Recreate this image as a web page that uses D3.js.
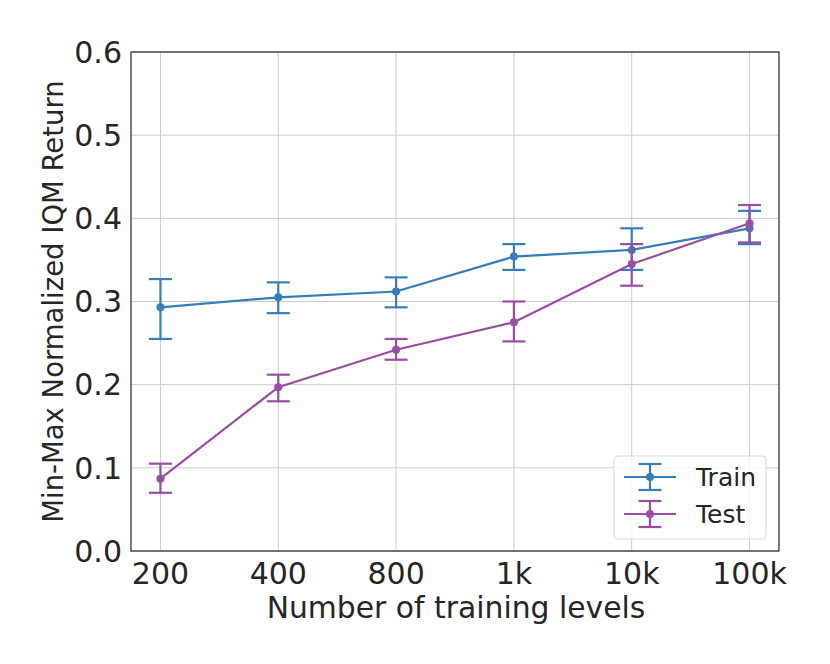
<!doctype html>
<html>
<head>
    <script src="https://d3js.org/d3.v7.min.js"></script>
</head>
<style>
    body { margin: 0; background: #fff; }
    svg text { font-family: "DejaVu Sans", sans-serif; fill: #262626; }
</style>
<body>
    <div id="chart"></div>
    <script>
        // chart values
        var levels = ["200", "400", "800", "1k", "10k", "100k"];
        var trainMean = [0.293, 0.305, 0.312, 0.354, 0.362, 0.388];
        var trainLow  = [0.255, 0.286, 0.293, 0.338, 0.338, 0.369];
        var trainHigh = [0.327, 0.323, 0.329, 0.369, 0.388, 0.409];
        var testMean  = [0.087, 0.197, 0.242, 0.275, 0.345, 0.394];
        var testLow   = [0.070, 0.180, 0.230, 0.252, 0.319, 0.371];
        var testHigh  = [0.105, 0.212, 0.255, 0.300, 0.369, 0.416];
        var yTicks = [0.0, 0.1, 0.2, 0.3, 0.4, 0.5, 0.6];

        var width = 830, height = 664;
        var margin = {left: 131, right: 51, top: 52, bottom: 113};

        var svg = d3.select("#chart").append("svg")
                    .attr("width", width)
                    .attr("height", height);

        var x = d3.scalePoint()
                  .domain(levels)
                  .range([margin.left, width - margin.right])
                  .padding(0.25);

        var y = d3.scaleLinear()
                  .domain([0, 0.6])
                  .range([height - margin.bottom, margin.top]);

        // grid
        svg.append("g").selectAll("line").data(yTicks).enter().append("line")
           .attr("x1", margin.left).attr("x2", width - margin.right)
           .attr("y1", function(d) { return y(d); })
           .attr("y2", function(d) { return y(d); })
           .attr("stroke", "#cccccc").attr("stroke-width", 1);
        svg.append("g").selectAll("line").data(levels).enter().append("line")
           .attr("x1", function(d) { return x(d); })
           .attr("x2", function(d) { return x(d); })
           .attr("y1", margin.top).attr("y2", height - margin.bottom)
           .attr("stroke", "#cccccc").attr("stroke-width", 1);

        // frame
        svg.append("rect")
           .attr("x", margin.left).attr("y", margin.top)
           .attr("width", width - margin.left - margin.right)
           .attr("height", height - margin.top - margin.bottom)
           .attr("fill", "none").attr("stroke", "#262626").attr("stroke-width", 1.2);

        // tick labels
        svg.append("g").selectAll("text").data(yTicks).enter().append("text")
           .attr("x", margin.left - 9)
           .attr("y", function(d) { return y(d); })
           .attr("dy", "0.36em")
           .attr("text-anchor", "end")
           .attr("font-size", "30px")
           .text(function(d) { return d.toFixed(1); });

        svg.append("g").selectAll("text").data(levels).enter().append("text")
           .attr("x", function(d) { return x(d); })
           .attr("y", 584)
           .attr("text-anchor", "middle")
           .attr("font-size", "30px")
           .text(function(d) { return d; });

        // axis labels
        svg.append("text")
           .attr("x", 456)
           .attr("y", 618)
           .attr("text-anchor", "middle")
           .attr("font-size", "29.8px")
           .text("Number of training levels");

        svg.append("text")
           .attr("transform", "translate(63," + ((margin.top + height - margin.bottom) / 2) + ") rotate(-90)")
           .attr("text-anchor", "middle")
           .attr("font-size", "27.5px")
           .text("Min-Max Normalized IQM Return");

        var series = [
            {name: "Train", color: "#377eb8", mean: trainMean, low: trainLow, high: trainHigh},
            {name: "Test",  color: "#984ea3", mean: testMean,  low: testLow,  high: testHigh}
        ];

        var line = d3.line()
                     .x(function(d, i) { return x(levels[i]); })
                     .y(function(d) { return y(d); });

        var cap = 11.5;

        series.forEach(function(s) {
            var g = svg.append("g");
            g.append("path")
             .attr("d", line(s.mean))
             .attr("fill", "none")
             .attr("stroke", s.color)
             .attr("stroke-width", 2.2);

            levels.forEach(function(l, i) {
                var cx = x(l);
                g.append("line")
                 .attr("x1", cx).attr("x2", cx)
                 .attr("y1", y(s.low[i])).attr("y2", y(s.high[i]))
                 .attr("stroke", s.color).attr("stroke-width", 2.2);
                [s.low[i], s.high[i]].forEach(function(v) {
                    g.append("line")
                     .attr("x1", cx - cap).attr("x2", cx + cap)
                     .attr("y1", y(v)).attr("y2", y(v))
                     .attr("stroke", s.color).attr("stroke-width", 2.2);
                });
                g.append("circle")
                 .attr("cx", cx).attr("cy", y(s.mean[i]))
                 .attr("r", 4)
                 .attr("fill", s.color);
            });
        });

        // legend
        var legend = svg.append("g");
        legend.append("rect")
              .attr("x", 614).attr("y", 456)
              .attr("width", 152).attr("height", 83)
              .attr("rx", 4)
              .attr("fill", "#fff").attr("fill-opacity", 0.8)
              .attr("stroke", "#d9d9d9").attr("stroke-width", 1);

        series.forEach(function(s, i) {
            var ly = 477 + i * 37;
            var lx = 650;
            legend.append("line")
                  .attr("x1", lx - 26).attr("x2", lx + 26)
                  .attr("y1", ly).attr("y2", ly)
                  .attr("stroke", s.color).attr("stroke-width", 2.2);
            legend.append("line")
                  .attr("x1", lx).attr("x2", lx)
                  .attr("y1", ly - 13).attr("y2", ly + 13)
                  .attr("stroke", s.color).attr("stroke-width", 2.2);
            [-13, 13].forEach(function(o) {
                legend.append("line")
                      .attr("x1", lx - cap).attr("x2", lx + cap)
                      .attr("y1", ly + o).attr("y2", ly + o)
                      .attr("stroke", s.color).attr("stroke-width", 2.2);
            });
            legend.append("circle")
                  .attr("cx", lx).attr("cy", ly).attr("r", 4)
                  .attr("fill", s.color);
            legend.append("text")
                  .attr("x", 696).attr("y", ly)
                  .attr("dy", "0.36em")
                  .attr("font-size", "25px")
                  .text(s.name);
        });
    </script>
</body>
</html>
